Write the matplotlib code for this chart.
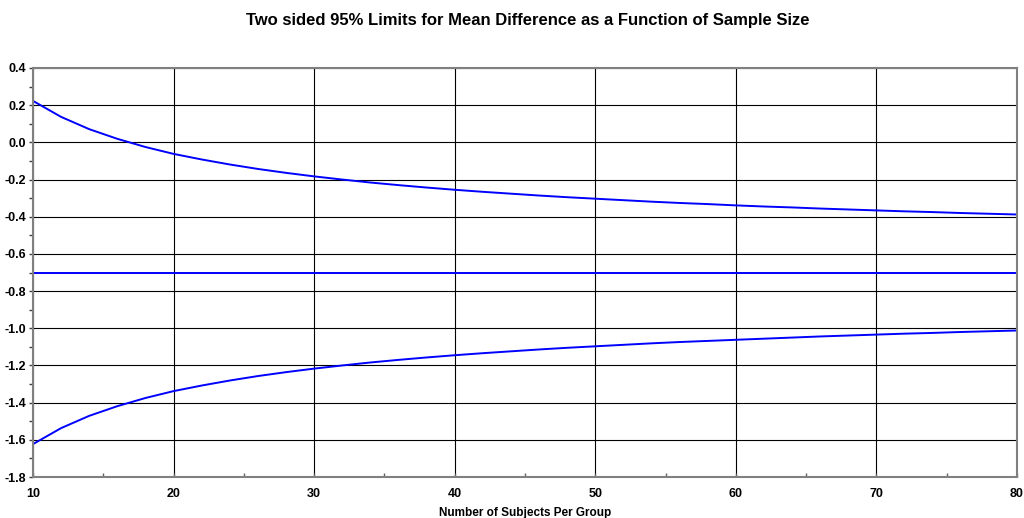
import matplotlib
matplotlib.use("Agg")
import matplotlib.pyplot as plt
from matplotlib.ticker import MultipleLocator

plt.rcParams['font.family'] = ['Liberation Sans', 'DejaVu Sans']

n_subjects = [10, 12, 14, 16, 18, 20, 22, 24, 26, 28, 30, 32, 34, 36, 38, 40, 42, 44,
              46, 48, 50, 52, 54, 56, 58, 60, 62, 64, 66, 68, 70, 72, 74, 76, 78, 80]
upper_limit = [0.223, 0.137, 0.071, 0.019, -0.025, -0.062, -0.092, -0.119, -0.143,
               -0.164, -0.183, -0.200, -0.216, -0.230, -0.243, -0.255, -0.266, -0.276,
               -0.286, -0.295, -0.303, -0.311, -0.319, -0.326, -0.332, -0.339, -0.345,
               -0.350, -0.356, -0.361, -0.366, -0.371, -0.375, -0.380, -0.384, -0.388]
lower_limit = [-1.623, -1.537, -1.471, -1.419, -1.375, -1.338, -1.308, -1.281, -1.257,
               -1.236, -1.217, -1.200, -1.184, -1.170, -1.157, -1.145, -1.134, -1.124,
               -1.114, -1.105, -1.097, -1.089, -1.081, -1.074, -1.068, -1.062, -1.056,
               -1.050, -1.044, -1.039, -1.034, -1.029, -1.025, -1.020, -1.016, -1.012]
mean_difference = [-0.7] * len(n_subjects)

fig = plt.figure(figsize=(10.24, 5.18), dpi=100)
ax = fig.add_axes([33 / 1024, 1 - 477 / 518, (1017 - 33) / 1024, (477 - 68) / 518])

line_kw = dict(color='#0000ff', linewidth=1.4, solid_joinstyle='miter')
ax.plot(n_subjects, upper_limit, **line_kw)
ax.plot(n_subjects, mean_difference, **line_kw)
ax.plot(n_subjects, lower_limit, **line_kw)

ax.set_xlim(10, 80)
ax.set_ylim(-1.8, 0.4)
ax.xaxis.set_major_locator(MultipleLocator(10))
ax.xaxis.set_minor_locator(MultipleLocator(5))
ax.yaxis.set_major_locator(MultipleLocator(0.2))
ax.yaxis.set_minor_locator(MultipleLocator(0.1))
ax.yaxis.set_major_formatter(plt.FuncFormatter(lambda v, p: f"{v:.1f}"))

ax.grid(True, which='major', color='black', linewidth=0.8)
ax.set_axisbelow(True)

for s in ax.spines.values():
    s.set_color('#808080')
    s.set_linewidth(1.5)

ax.tick_params(axis='x', which='both', direction='in', color='#606060', length=3,
               width=1, pad=8, labelsize=9)
ax.tick_params(axis='y', which='both', direction='out', color='#404040', length=3,
               width=1, pad=2, labelsize=9)
for lbl in ax.get_xticklabels() + ax.get_yticklabels():
    lbl.set_fontweight('bold')

ax.set_xlabel('Number of Subjects Per Group', fontsize=8.5, fontweight='bold', labelpad=5)
fig.text(528 / 1024, 1 - 20 / 518, 'Two sided 95% Limits for Mean Difference as a Function of Sample Size',
         ha='center', va='center', fontsize=12, fontweight='bold')

fig.savefig('out.png', dpi=100, facecolor='white')
